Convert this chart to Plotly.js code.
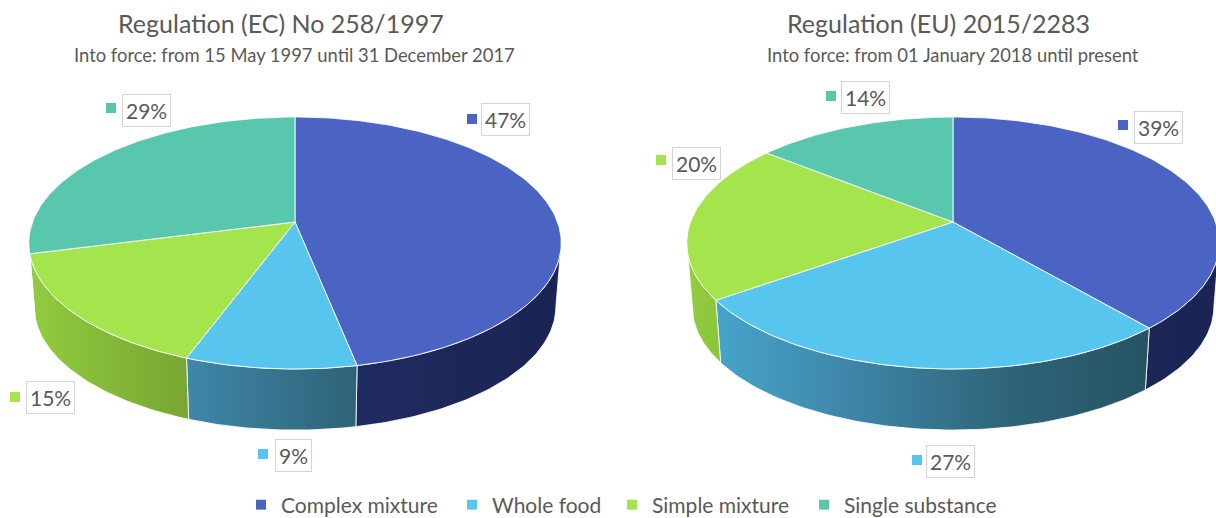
<!DOCTYPE html>
<html><head><meta charset="utf-8">
<script src="https://cdn.plot.ly/plotly-3.0.1.min.js"></script>
<style>html,body{margin:0;padding:0;background:#fff}#c{width:1216px;height:518px}</style>
</head><body><div id="c"></div>
<script>
const categories = ["Complex mixture","Whole food","Simple mixture","Single substance"];
const valuesEC = [46.83,8.84,15.33,29];
const valuesEU = [38.67,26.53,20.47,14.33];
const topColors = ["#4b64c4","#57c5ee","#a4e44c","#58c7ad"];
const wallScales = [
  [[0,"#2a3775"],[0.6,"#1f2b60"],[1,"#1a2453"]],
  [[0,"#47abd2"],[0.3,"#3f86a9"],[0.6,"#2e6579"],[1,"#224a58"]],
  [[0,"#92cc3f"],[0.3,"#78a632"],[1,"#6f9a2e"]],
  [[0,"#3f9a85"],[1,"#2f7a68"]]
];
const titles = ["Regulation (EC) No 258/1997","Regulation (EU) 2015/2283"];
const subtitles = ["Into force: from 15 May 1997 until 31 December 2017","Into force: from 01 January 2018 until present"];
const legendIds = ["legend","legend2","legend3","legend4"];
const legendLeft = [241,452,612,804];

// view of each pie (perspective projection of a circle, in page pixels)
const pies = [
  {values:valuesEC, cx:295, cy:222, titleX:281, subX:294.5,
   labels:[[505,119.5],[293,455],[50,397],[146,110]], squares:[[472,119],[263,454],[15,397],[111,108]]},
  {values:valuesEU, cx:953, cy:222, titleX:938, subX:953,
   labels:[[1158,127],[950,461],[696,163],[865,97]], squares:[[1123,125],[917,460],[661,160],[831,96]]}
];
const A = 262.5, B = 122.5, P = 1/6, DROP = 64, SHRINK = 0.98;
const VIS0 = 99.6, VIS1 = 260.4;

function project(pie, deg, lower){
  const t = deg*Math.PI/180, u = Math.sin(t), v = -Math.cos(t), w = 1-P*v;
  const s = lower ? SHRINK : 1;
  return [pie.cx + s*A*u/w, pie.cy + (lower?DROP:0) + s*B*v/w];
}
function arc(pie, a, b, lower){
  const pts = [], n = Math.max(2, Math.ceil(Math.abs(b-a)));
  for(let i=0;i<=n;i++) pts.push(project(pie, a+(b-a)*i/n, lower));
  return pts;
}
const traces = [], annotations = [];
const sepLine = {color:"rgba(255,255,255,0.85)", width:1};
pies.forEach(pie=>{
  const total = pie.values.reduce((s,v)=>s+v,0);
  let acc = 0;
  const spans = pie.values.map(v=>{const a=acc/total*360; acc+=v; return [a,acc/total*360];});
  // side walls
  spans.forEach(([a,b],i)=>{
    const a2 = Math.max(a,VIS0), b2 = Math.min(b,VIS1);
    if(b2<=a2) return;
    const pts = arc(pie,a2,b2,false).concat(arc(pie,b2,a2,true));
    pts.push(pts[0]);
    traces.push({type:"scatter",mode:"lines",x:pts.map(p=>p[0]),y:pts.map(p=>p[1]),
      fill:"toself",line:sepLine,showlegend:false,hoverinfo:"skip",
      fillgradient:{type:"horizontal",colorscale:wallScales[i],start:pie.cx-267,stop:pie.cx+267}});
  });
  // top faces
  spans.forEach(([a,b],i)=>{
    const pts = [[pie.cx,pie.cy]].concat(arc(pie,a,b,false));
    pts.push(pts[0]);
    traces.push({type:"scatter",mode:"lines",x:pts.map(p=>p[0]),y:pts.map(p=>p[1]),
      fill:"toself",fillcolor:topColors[i],line:sepLine,showlegend:false,
      name:categories[i],text:Math.round(pie.values[i])+"%",hoverinfo:"name+text"});
  });
  // data labels
  traces.push({type:"scatter",mode:"markers",x:pie.squares.map(p=>p[0]),y:pie.squares.map(p=>p[1]),
    marker:{symbol:"square",size:10,color:topColors},showlegend:false,hoverinfo:"skip"});
  pie.values.forEach((v,i)=>annotations.push({x:pie.labels[i][0],y:pie.labels[i][1],xref:"x",yref:"y",
    text:Math.round(v)+"%",showarrow:false,font:{family:"Lato",size:21,color:"#595959"},
    bordercolor:"#d4d4d4",borderwidth:1,borderpad:3,bgcolor:"#fff"}));
});
titles.forEach((t,i)=>annotations.push({x:pies[i].titleX,y:23,xref:"x",yref:"y",text:t,showarrow:false,
  font:{family:"Lato",size:25,color:"#595959"}}));
subtitles.forEach((t,i)=>annotations.push({x:pies[i].subX,y:55,xref:"x",yref:"y",text:t,showarrow:false,
  font:{family:"Lato",size:18.4,color:"#595959"}}));
// legend keys
categories.forEach((c,i)=>traces.push({type:"scatter",mode:"markers",x:[null],y:[null],name:c,legend:legendIds[i],
  marker:{symbol:"square",size:10,color:topColors[i]},hoverinfo:"skip"}));

const layout = {
  width:1216,height:518,margin:{l:0,r:0,t:0,b:0,autoexpand:false},
  paper_bgcolor:"#fff",plot_bgcolor:"#fff",
  xaxis:{range:[0,1216],visible:false,fixedrange:true},
  yaxis:{range:[518,0],visible:false,fixedrange:true},
  showlegend:true,
  annotations
};
legendIds.forEach((id,i)=>{
  layout[id] = {orientation:"h",x:legendLeft[i]/1216,xanchor:"left",y:13/518,yanchor:"middle",
    font:{family:"Lato",size:21,color:"#595959"},bgcolor:"rgba(0,0,0,0)",itemclick:false,itemdoubleclick:false};
});
Plotly.newPlot("c",traces,layout,{displayModeBar:false,staticPlot:true});
</script></body></html>
